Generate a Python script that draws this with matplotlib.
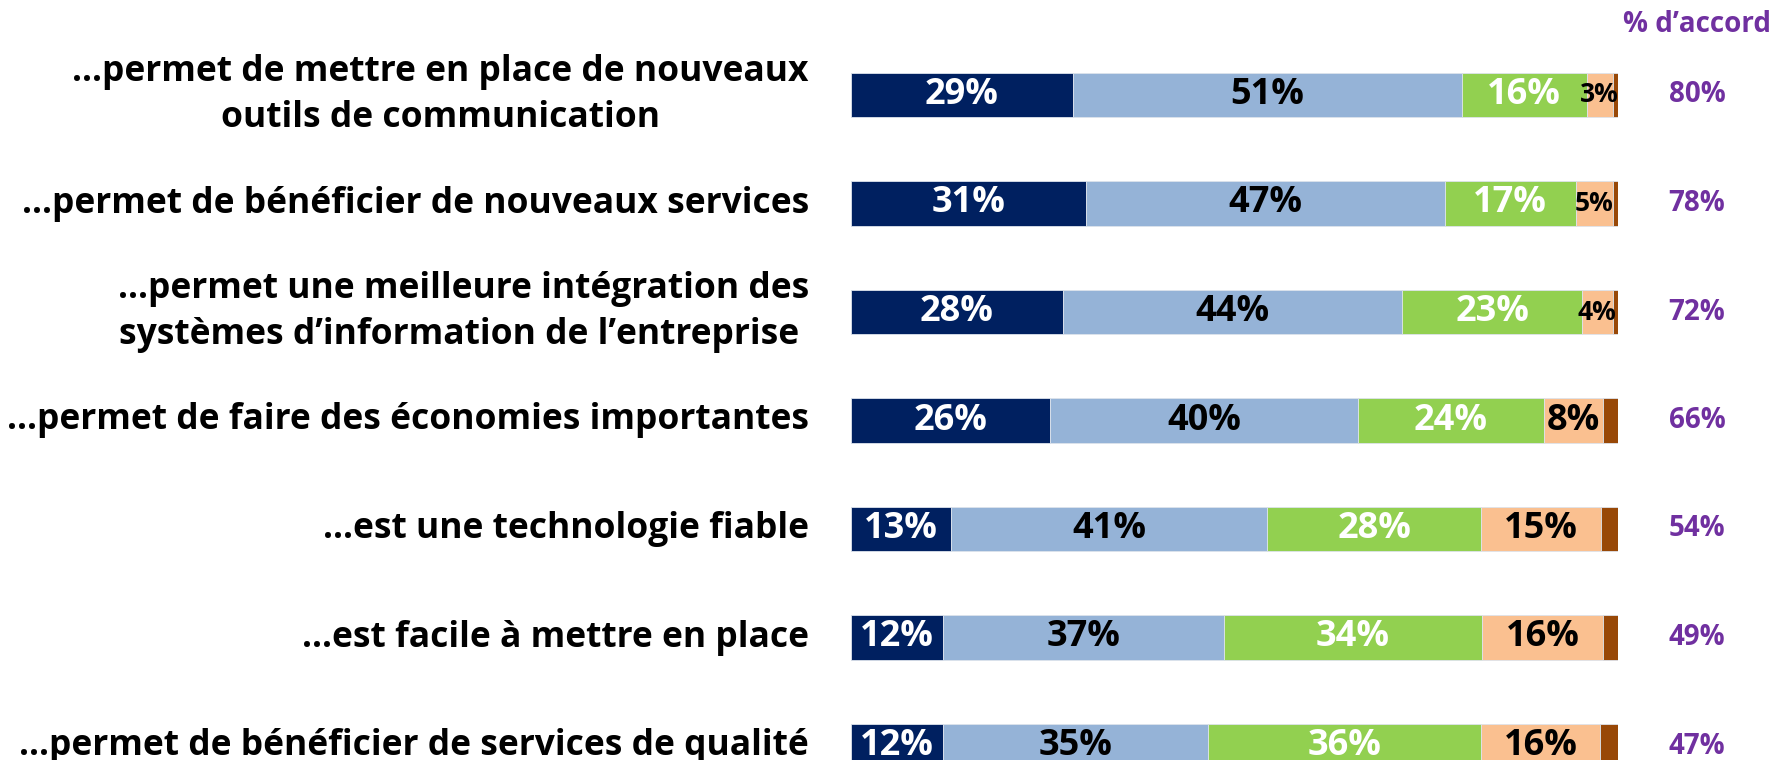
import matplotlib
matplotlib.use("Agg")
import matplotlib.pyplot as plt

categories = [
    "...permet de mettre en place de nouveaux\noutils de communication",
    "...permet de bénéficier de nouveaux services",
    "...permet une meilleure intégration des\nsystèmes d’information de l’entreprise ",
    "...permet de faire des économies importantes",
    "...est une technologie fiable",
    "...est facile à mettre en place",
    "...permet de bénéficier de services de qualité",
]
tout_a_fait = [28.9, 30.7, 27.6, 25.9, 13.1, 12.0, 12.0]
plutot_oui = [50.7, 46.7, 44.3, 40.2, 41.1, 36.6, 34.6]
plutot_non = [16.3, 17.1, 23.4, 24.2, 28.0, 33.7, 35.5]
pas_du_tout = [3.4, 4.8, 4.0, 7.7, 15.6, 15.7, 15.6]
nsp = [0.7, 0.7, 0.7, 2.0, 2.2, 2.0, 2.3]
labels_taf = ["29%", "31%", "28%", "26%", "13%", "12%", "12%"]
labels_po = ["51%", "47%", "44%", "40%", "41%", "37%", "35%"]
labels_pn = ["16%", "17%", "23%", "24%", "28%", "34%", "36%"]
labels_pdt = ["3%", "5%", "4%", "8%", "15%", "16%", "16%"]
accord = ["80%", "78%", "72%", "66%", "54%", "49%", "47%"]

series = [tout_a_fait, plutot_oui, plutot_non, pas_du_tout, nsp]
series_labels = [labels_taf, labels_po, labels_pn, labels_pdt, None]
colors = ["#002060", "#95B3D7", "#92D050", "#FAC090", "#984807"]
text_colors = ["white", "black", "white", "black", None]

FONT = "Open Sans"
W, H = 1772, 760
fig = plt.figure(figsize=(W / 100, H / 100), dpi=100)

x0, x1 = 851, 1618
row0, spacing = 95, 108.5
ax = fig.add_axes([x0 / W, 0, (x1 - x0) / W, 1])
ax.set_xlim(0, 100)
ax.set_ylim((H - row0) / spacing, -row0 / spacing)
ax.axis("off")

ys = list(range(len(categories)))
left = [0.0] * len(categories)
for vals, labs, col, tcol in zip(series, series_labels, colors, text_colors):
    ax.barh(ys, vals, left=left, height=0.41, color=col, edgecolor="#dde3ec",
            linewidth=0.6, clip_on=True)
    if labs is not None:
        for i, (v, l, lab) in enumerate(zip(vals, left, labs)):
            fs = 26 if v >= 6 else 19
            ax.text(l + v / 2, i, lab, ha="center", va="center", color=tcol,
                    fontsize=fs, fontweight="bold", family=FONT)
    left = [a + b for a, b in zip(left, vals)]

# category labels
for i, cat in enumerate(categories):
    ax.text(-5.5, i, cat, ha="right", va="center", multialignment="center",
            fontsize=25.5, fontweight="bold", family=FONT, color="black",
            linespacing=1.35, clip_on=False)

# % d'accord column
acc_x = 1697
axr = fig.add_axes([0, 0, 1, 1], facecolor="none")
axr.set_xlim(0, W)
axr.set_ylim(ax.get_ylim())
axr.axis("off")
axr.text(acc_x, -row0 / spacing + 24 / spacing, "% d’accord", ha="center", va="center",
         color="#7030A0", fontsize=20, fontweight="bold", family=FONT)
for i, a in enumerate(accord):
    axr.text(acc_x, i, a, ha="center", va="center", color="#7030A0",
             fontsize=20, fontweight="bold", family=FONT)

fig.savefig("out.png", dpi=100)
